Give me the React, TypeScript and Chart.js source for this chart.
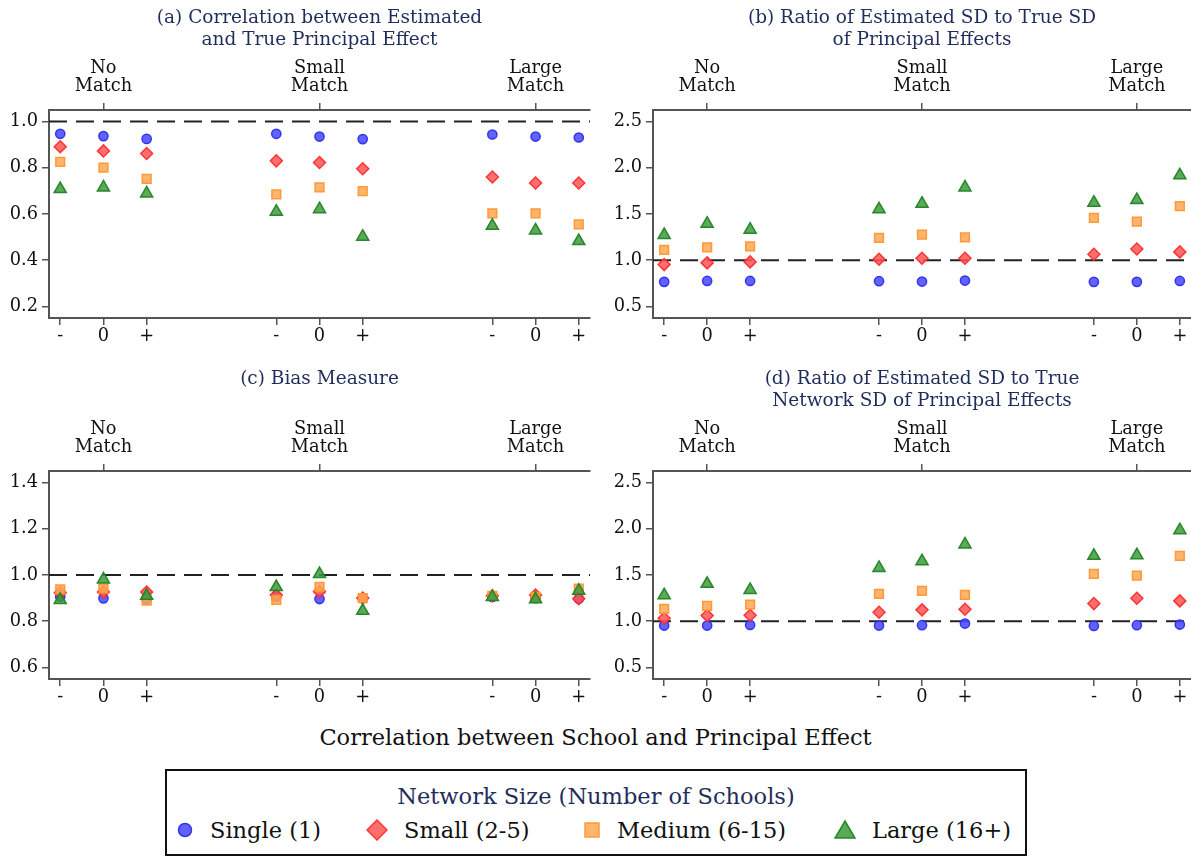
import React, { useEffect, useRef } from 'react';
import { Chart, registerables } from 'chart.js';
Chart.register(...registerables);

// ---------- data ----------
const xPositions = [1, 2, 3, 6, 7, 8, 11, 12, 13];
const xTickLabels = ['-', '0', '+', '-', '0', '+', '-', '0', '+'];
const groupPositions = [2, 7, 12];
const groupLabels = [['No', 'Match'], ['Small', 'Match'], ['Large', 'Match']];
const seriesNames = ['Single (1)', 'Small (2-5)', 'Medium (6-15)', 'Large (16+)'];

// (a) Correlation between Estimated and True Principal Effect
const aSingle = [0.947, 0.937, 0.925, 0.947, 0.935, 0.924, 0.944, 0.935, 0.931];
const aSmall = [0.891, 0.873, 0.862, 0.830, 0.823, 0.796, 0.760, 0.734, 0.734];
const aMedium = [0.826, 0.801, 0.752, 0.685, 0.715, 0.699, 0.603, 0.603, 0.555];
const aLarge = [0.708, 0.715, 0.689, 0.610, 0.621, 0.502, 0.549, 0.529, 0.483];

// (b) Ratio of Estimated SD to True SD of Principal Effects
const bSingle = [0.766, 0.776, 0.776, 0.773, 0.769, 0.780, 0.766, 0.766, 0.776];
const bSmall = [0.953, 0.971, 0.982, 1.011, 1.021, 1.021, 1.065, 1.122, 1.090];
const bMedium = [1.111, 1.140, 1.151, 1.241, 1.276, 1.248, 1.457, 1.417, 1.586];
const bLarge = [1.273, 1.395, 1.330, 1.551, 1.611, 1.788, 1.622, 1.651, 1.918];

// (c) Bias Measure
const cSingle = [0.906, 0.899, 0.895, 0.906, 0.896, 0.900, 0.905, 0.900, 0.897];
const cSmall = [0.923, 0.926, 0.926, 0.913, 0.928, 0.900, 0.910, 0.913, 0.897];
const cMedium = [0.938, 0.941, 0.889, 0.892, 0.949, 0.900, 0.910, 0.905, 0.941];
const cLarge = [0.892, 0.981, 0.910, 0.948, 1.004, 0.845, 0.905, 0.895, 0.932];

// (d) Ratio of Estimated SD to True Network SD of Principal Effects
const dSingle = [0.953, 0.953, 0.960, 0.953, 0.957, 0.975, 0.949, 0.957, 0.964];
const dSmall = [1.032, 1.061, 1.065, 1.097, 1.123, 1.130, 1.191, 1.249, 1.220];
const dMedium = [1.133, 1.166, 1.180, 1.296, 1.328, 1.285, 1.512, 1.494, 1.707];
const dLarge = [1.281, 1.404, 1.339, 1.577, 1.649, 1.830, 1.707, 1.714, 1.985];

const yTicksA = [0.2, 0.4, 0.6, 0.8, 1.0];
const yTicksB = [0.5, 1.0, 1.5, 2.0, 2.5];
const yTicksC = [0.6, 0.8, 1.0, 1.2, 1.4];
const yTicksD = [0.5, 1.0, 1.5, 2.0, 2.5];

const titleA = ['(a) Correlation between Estimated', 'and True Principal Effect'];
const titleB = ['(b) Ratio of Estimated SD to True SD', 'of Principal Effects'];
const titleC = ['(c) Bias Measure', ''];
const titleD = ['(d) Ratio of Estimated SD to True', 'Network SD of Principal Effects'];

const xAxisTitle = 'Correlation between School and Principal Effect';
const legendTitle = 'Network Size (Number of Schools)';

// ---------- styles ----------
const FONT = '"DejaVu Serif", serif';
const NAVY = '#1f2d5c';
const X_MIN = 0.74;
const X_MAX = 13.26;
const REF_LINE = 1.0;

const markerStyles = [
  { pointStyle: 'circle', radius: 4.6, bg: 'rgba(70,70,255,0.85)', border: 'rgba(45,45,240,0.95)' },
  { pointStyle: 'rectRot', radius: 6, bg: 'rgba(255,85,85,0.85)', border: 'rgba(255,45,45,0.95)' },
  { pointStyle: 'rect', radius: 6.2, bg: 'rgba(255,168,85,0.85)', border: 'rgba(255,150,50,0.95)' },
  { pointStyle: 'triangle', radius: 7, bg: 'rgba(60,155,60,0.85)', border: 'rgba(35,130,35,0.95)' },
];

type Panel = {
  title: string[];
  yMin: number;
  yMax: number;
  yTicks: number[];
  series: number[][];
  yAxisWidth: number;
  padRight: number;
};

function buildConfig(p: Panel): any {
  const datasets: any[] = p.series.map((vals, si) => ({
    type: 'scatter',
    label: seriesNames[si],
    data: vals.map((v, i) => ({ x: xPositions[i], y: v })),
    pointStyle: markerStyles[si].pointStyle,
    pointRadius: markerStyles[si].radius,
    pointBackgroundColor: markerStyles[si].bg,
    pointBorderColor: markerStyles[si].border,
    pointBorderWidth: 1.5,
    showLine: false,
    order: 4 - si,
  }));
  datasets.push({
    type: 'line',
    label: 'ref',
    data: [{ x: X_MIN, y: REF_LINE }, { x: X_MAX, y: REF_LINE }],
    borderColor: '#222',
    borderWidth: 2,
    borderDash: [18, 9],
    pointRadius: 0,
    order: 10,
  });
  const tickFont = { family: FONT, size: 17.8, lineHeight: '18px' };
  const axisBorder = { display: true, color: '#555', width: 2 };
  const axisGrid = { drawOnChartArea: false, tickLength: 7, color: '#555', lineWidth: 1.5 };
  return {
    type: 'scatter',
    data: { datasets },
    options: {
      animation: false,
      responsive: false,
      maintainAspectRatio: false,
      layout: { autoPadding: false, padding: { top: 0, left: 0, right: p.padRight, bottom: 0 } },
      plugins: {
        legend: { display: false },
        tooltip: { enabled: false },
        title: {
          display: true,
          text: p.title,
          color: NAVY,
          fullSize: false,
          font: { family: FONT, size: 18.5, weight: 'normal', lineHeight: '22px' },
          padding: { top: 7, bottom: 0 },
        },
      },
      scales: {
        x: {
          type: 'linear',
          position: 'bottom',
          min: X_MIN,
          max: X_MAX,
          afterBuildTicks: (s: any) => { s.ticks = xPositions.map((v) => ({ value: v })); },
          afterFit: (s: any) => { s.height = 27; },
          ticks: {
            callback: (_v: any, i: number) => xTickLabels[i],
            font: tickFont, color: '#111', padding: 2, autoSkip: false, maxRotation: 0,
          },
          grid: axisGrid,
          border: axisBorder,
        },
        xTop: {
          type: 'linear',
          position: 'top',
          min: X_MIN,
          max: X_MAX,
          afterBuildTicks: (s: any) => { s.ticks = groupPositions.map((v) => ({ value: v })); },
          afterFit: (s: any) => { s.height = 59; },
          ticks: {
            callback: (_v: any, i: number) => groupLabels[i],
            font: tickFont, color: '#111', padding: 8, autoSkip: false, maxRotation: 0,
          },
          grid: axisGrid,
          border: axisBorder,
        },
        y: {
          type: 'linear',
          min: p.yMin,
          max: p.yMax,
          afterBuildTicks: (s: any) => { s.ticks = p.yTicks.map((v) => ({ value: v })); },
          afterFit: (s: any) => { s.width = p.yAxisWidth; },
          ticks: {
            callback: (v: any) => Number(v).toFixed(1),
            font: tickFont, color: '#111', padding: 4, autoSkip: false,
          },
          grid: axisGrid,
          border: axisBorder,
        },
      },
    },
  };
}

function ChartPanel({ panel, left, top, width, height }: { panel: Panel; left: number; top: number; width: number; height: number }) {
  const ref = useRef<HTMLCanvasElement | null>(null);
  useEffect(() => {
    if (!ref.current) return;
    const chart = new Chart(ref.current, buildConfig(panel));
    return () => chart.destroy();
  }, [panel]);
  return (
    <canvas
      ref={ref}
      width={width}
      height={height}
      style={{ position: 'absolute', left, top, width, height }}
    />
  );
}

const panelA: Panel = { title: titleA, yMin: 0.15, yMax: 1.05, yTicks: yTicksA, series: [aSingle, aSmall, aMedium, aLarge], yAxisWidth: 49, padRight: 5 };
const panelB: Panel = { title: titleB, yMin: 0.375, yMax: 2.625, yTicks: yTicksB, series: [bSingle, bSmall, bMedium, bLarge], yAxisWidth: 58, padRight: 0 };
const panelC: Panel = { title: titleC, yMin: 0.55, yMax: 1.45, yTicks: yTicksC, series: [cSingle, cSmall, cMedium, cLarge], yAxisWidth: 49, padRight: 5 };
const panelD: Panel = { title: titleD, yMin: 0.375, yMax: 2.625, yTicks: yTicksD, series: [dSingle, dSmall, dMedium, dLarge], yAxisWidth: 58, padRight: 0 };

function LegendMarker({ kind }: { kind: number }) {
  const s = markerStyles[kind];
  let shape: any = null;
  if (kind === 0) shape = <circle cx={11} cy={11} r={6.5} fill={s.bg} stroke={s.border} strokeWidth={1.5} />;
  if (kind === 1) shape = <polygon points="11,1 21,11 11,21 1,11" fill={s.bg} stroke={s.border} strokeWidth={1.5} />;
  if (kind === 2) shape = <rect x={4} y={4} width={14} height={14} fill={s.bg} stroke={s.border} strokeWidth={1.5} />;
  if (kind === 3) shape = <polygon points="11,2 21,19 1,19" fill={s.bg} stroke={s.border} strokeWidth={1.5} />;
  return <svg width={22} height={22} style={{ display: 'block' }}>{shape}</svg>;
}

const legendMarkerX = [185, 377, 592, 845];
const legendTextX = [210, 404, 617, 872];

export default function App() {
  return (
    <div style={{ position: 'absolute', left: 0, top: 0, width: 1191, height: 856, overflow: 'hidden', background: '#fff' }}>
      <ChartPanel panel={panelA} left={0} top={0} width={595} height={345} />
      <ChartPanel panel={panelB} left={595} top={0} width={596} height={345} />
      <ChartPanel panel={panelC} left={0} top={361} width={595} height={345} />
      <ChartPanel panel={panelD} left={595} top={361} width={596} height={345} />
      <div style={{ position: 'absolute', left: 0, width: 1191, top: 722, textAlign: 'center', fontFamily: FONT, fontSize: 22.5, color: '#111', lineHeight: '30px' }}>
        {xAxisTitle}
      </div>
      <div style={{ position: 'absolute', left: 165, top: 769, width: 862, height: 87, boxSizing: 'border-box', border: '2px solid #111' }} />
      <div style={{ position: 'absolute', left: 165, width: 862, top: 781, textAlign: 'center', fontFamily: FONT, fontSize: 22.5, color: NAVY, lineHeight: '30px' }}>
        {legendTitle}
      </div>
      {seriesNames.map((name, i) => (
        <React.Fragment key={name}>
          <div style={{ position: 'absolute', left: legendMarkerX[i] - 11, top: 819 }}>
            <LegendMarker kind={i} />
          </div>
          <div style={{ position: 'absolute', left: legendTextX[i], top: 815, fontFamily: FONT, fontSize: 22.5, color: '#111', lineHeight: '30px', whiteSpace: 'nowrap' }}>
            {name}
          </div>
        </React.Fragment>
      ))}
    </div>
  );
}
